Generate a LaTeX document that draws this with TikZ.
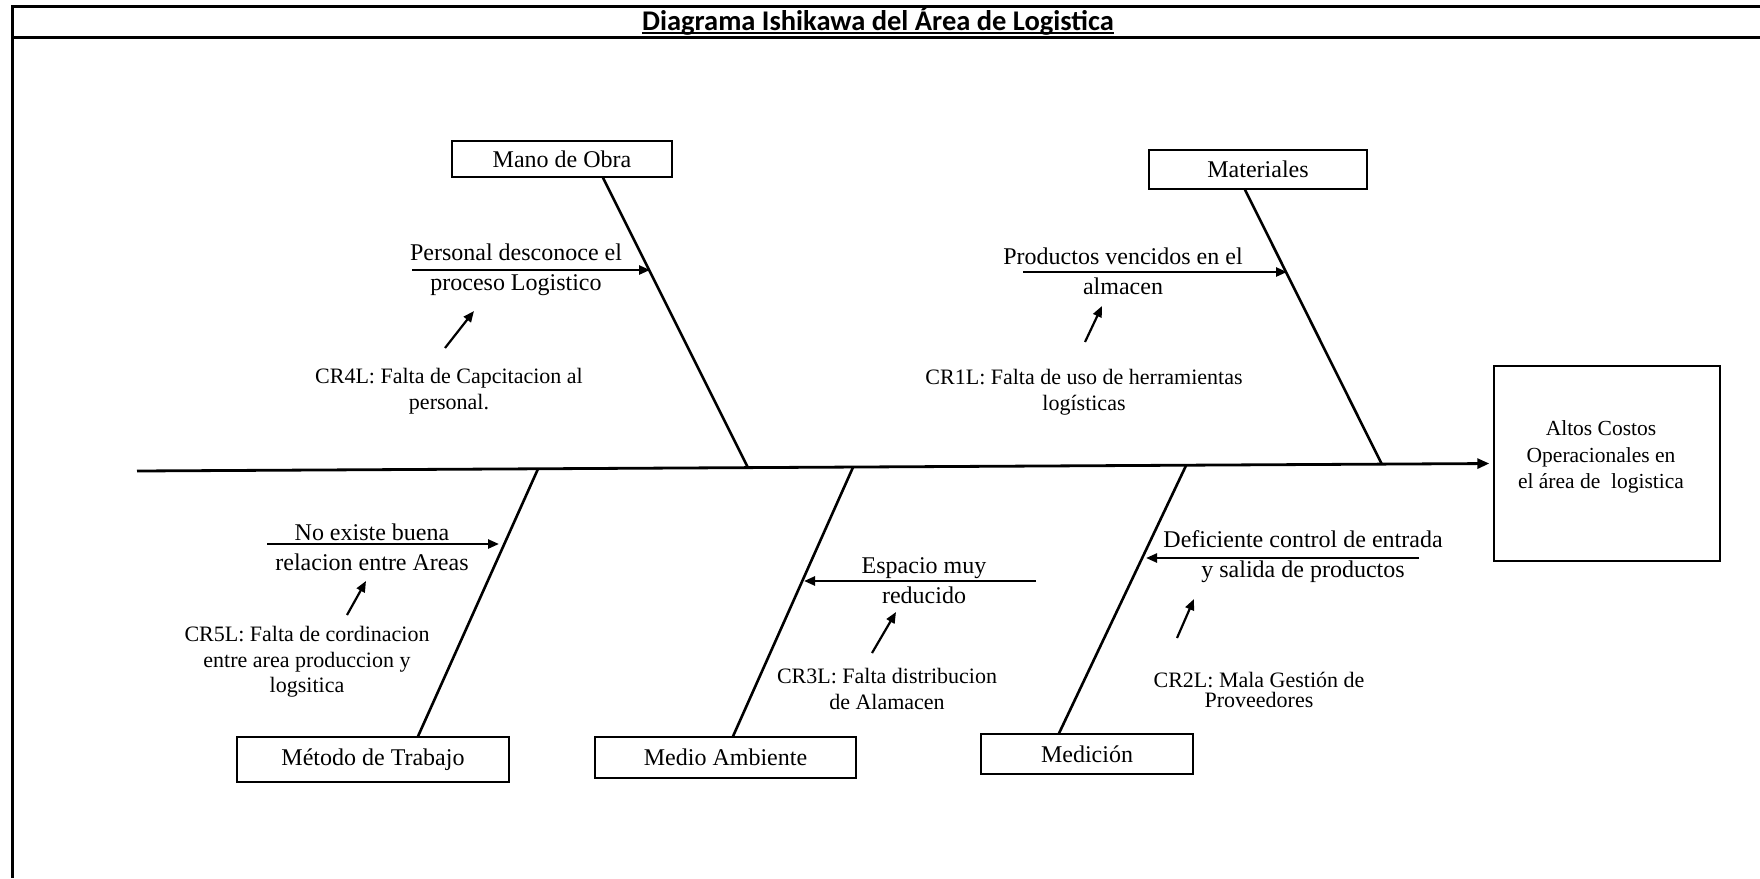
\documentclass[tikz,border=0pt]{standalone}
\usepackage{fontspec}
\setmainfont{Liberation Serif}
\newfontfamily\titlefont{Carlito}
\usetikzlibrary{arrows.meta,calc}

\tikzset{
  frameline/.style={line width=3pt},
  causebox/.style={draw, line width=1.4pt, inner sep=0pt, font=\fontsize{24}{28}\selectfont},
  effectbox/.style={draw, line width=1.4pt, inner sep=0pt},
  bone/.style={line width=2.6pt},
  spine/.style={line width=2.8pt, -{Triangle[length=12pt,width=10pt]}},
  subarrow/.style={line width=2.4pt, -{Triangle[length=11pt,width=9pt]}},
  rootarrow/.style={line width=2.2pt, -{Triangle[length=11pt,width=9pt]}},
  subtext/.style={align=center, inner sep=0pt, font=\fontsize{24}{30}\selectfont},
  roottext/.style={align=center, inner sep=0pt, font=\fontsize{22}{26.5}\selectfont},
}

\begin{document}
\begin{tikzpicture}[x=1pt,y=-1pt]
\useasboundingbox (0,0) rectangle (1760,878);

% sheet frame and title row
\coordinate (fTL) at (12,5);
\coordinate (fBL) at (12,878);
\coordinate (fTR) at (1760,6.5);
\coordinate (sepL) at (12,37.5);
\coordinate (sepR) at (1760,37.5);
\draw[frameline] (fTL) -- (fBL);
\draw[frameline] (12,6.5) -- (fTR);
\draw[frameline] (sepL) -- (sepR);
\node[inner sep=0pt, anchor=base, font=\titlefont\bfseries\fontsize{28.5}{30}\selectfont] (title) at (878,30.5)
  {Diagrama Ishikawa del Área de Logistica};
\draw[line width=1.8pt] ($(title.base west)+(0,2.5)$) -- ($(title.base east)+(0,2.5)$);

% effect
\node[effectbox, minimum width=226pt, minimum height=195pt] (eff) at (1607,463.5) {};
\node[align=center, inner sep=0pt, font=\fontsize{21.5}{26.5}\selectfont] (efftext) at (1601,457)
  {Altos Costos\\Operacionales en\\el área de\ \ logistica};

% spine
\coordinate (tail) at (137,471);
\draw[spine, shorten >=4pt] (tail) -- (eff.west);

% category boxes
\node[causebox, minimum width=220pt, minimum height=36pt] (mano) at (562,159) {Mano de Obra};
\node[causebox, minimum width=218pt, minimum height=39pt] (mat) at (1258,169.5) {Materiales};
\node[causebox, minimum width=272pt, minimum height=45pt] (met) at (373,759.5) {Método de Trabajo};
\node[causebox, minimum width=261pt, minimum height=41pt] (med) at (725.5,757.5) {Medio Ambiente};
\node[causebox, minimum width=212pt, minimum height=40pt] (mdc) at (1087,754) {Medición};

% junctions on the spine
\coordinate (j1) at (748,467.8);
\coordinate (j2) at (1382,464.6);
\coordinate (j3) at (538,468.9);
\coordinate (j4) at (853,467.3);
\coordinate (j5) at (1186,465.6);

% bones
\draw[bone] ($(mano.south)+(41,0)$) -- (j1);
\draw[bone] ($(mat.south)+(-13,0)$) -- (j2);
\draw[bone] ($(met.north)+(45,0)$) -- (j3);
\draw[bone] ($(med.north)+(7.5,0)$) -- (j4);
\draw[bone] ($(mdc.north)+(-28,0)$) -- (j5);

% Mano de Obra
\coordinate (a1s) at (412,270);
\coordinate (a1e) at (650,270);
\draw[subarrow] (a1s) -- (a1e);
\node[subtext] (t1) at (516,270) {Personal desconoce el\\proceso Logistico};
\coordinate (r1s) at (445,348);
\coordinate (r1e) at (474,311);
\draw[rootarrow] (r1s) -- (r1e);
\node[roottext] (c1) at (449,391) {CR4L: Falta de Capcitacion al\\personal.};

% Materiales
\coordinate (a2s) at (1023,272);
\coordinate (a2e) at (1287,272);
\draw[subarrow] (a2s) -- (a2e);
\node[subtext] (t2) at (1123,271) {Productos vencidos en el\\almacen};
\coordinate (r2s) at (1085,342);
\coordinate (r2e) at (1102,306);
\draw[rootarrow] (r2s) -- (r2e);
\node[roottext] (c2) at (1084,392) {CR1L: Falta de uso de herramientas\\logísticas};

% Método de Trabajo
\coordinate (a3s) at (267,544);
\coordinate (a3e) at (499,544);
\draw[subarrow] (a3s) -- (a3e);
\node[subtext] (t3) at (372,547) {No existe buena\\relacion entre Areas};
\coordinate (r3s) at (347,615);
\coordinate (r3e) at (366,581);
\draw[rootarrow] (r3s) -- (r3e);
\node[roottext, font=\fontsize{22}{25.5}\selectfont] (c3) at (307,662) {CR5L: Falta de cordinacion\\entre area produccion y\\logsitica};

% Medio Ambiente
\coordinate (a4s) at (1036,581);
\coordinate (a4e) at (804,581);
\draw[subarrow] (a4s) -- (a4e);
\node[subtext] (t4) at (924,581) {Espacio muy\\reducido};
\coordinate (r4s) at (872,653);
\coordinate (r4e) at (896,612);
\draw[rootarrow] (r4s) -- (r4e);
\node[roottext] (c4) at (887,689) {CR3L: Falta distribucion\\de Alamacen};

% Medición
\coordinate (a5s) at (1419,558);
\coordinate (a5e) at (1146,558);
\draw[subarrow] (a5s) -- (a5e);
\node[subtext] (t5) at (1303,557) {Deficiente control de entrada\\y salida de productos};
\coordinate (r5s) at (1177,638);
\coordinate (r5e) at (1194,599);
\draw[rootarrow] (r5s) -- (r5e);
\node[roottext, font=\fontsize{22}{20}\selectfont] (c5) at (1259,690) {CR2L: Mala Gestión de\\Proveedores};
\end{tikzpicture}
\end{document}
